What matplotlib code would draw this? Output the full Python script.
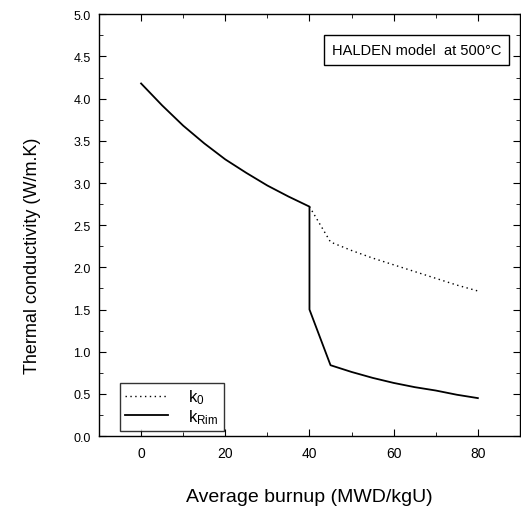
import matplotlib
matplotlib.use("Agg")
import matplotlib.pyplot as plt
from matplotlib.ticker import MultipleLocator, FormatStrFormatter

plt.rcParams['font.family'] = ['Liberation Sans', 'DejaVu Sans']
plt.rcParams['mathtext.fontset'] = 'custom'
plt.rcParams['mathtext.rm'] = 'Liberation Sans'
plt.rcParams['mathtext.it'] = 'Liberation Sans'

# burnup (MWD/kgU) and conductivity (W/m.K)
burnup_low = [0, 5, 10, 15, 20, 25, 30, 35, 40]
k_low = [4.18, 3.92, 3.68, 3.47, 3.28, 3.12, 2.97, 2.84, 2.72]

burnup_high = [40, 45, 50, 55, 60, 65, 70, 75, 80]
k0_high = [2.72, 2.30, 2.20, 2.11, 2.03, 1.95, 1.87, 1.79, 1.72]
krim_high = [1.50, 0.84, 0.76, 0.69, 0.63, 0.58, 0.54, 0.49, 0.45]


def main():
    fig = plt.figure(figsize=(5.21, 5.10), dpi=100)
    ax = fig.add_axes([0.190, 0.143, 0.808, 0.827])

    # k0 continues smoothly past 40, k_Rim drops at the rim threshold
    ax.plot(burnup_high, k0_high, color="black", lw=1.0, ls=(0, (1, 2.5)),
            label=r"$\mathregular{k_0}$")
    ax.plot(burnup_low + burnup_high, k_low + krim_high, color="black", lw=1.3,
            label=r"$\mathregular{k_{Rim}}$")

    ax.set_xlim(-10, 90)
    ax.set_ylim(0, 5.0)
    ax.xaxis.set_major_locator(MultipleLocator(20))
    ax.xaxis.set_minor_locator(MultipleLocator(10))
    ax.yaxis.set_major_locator(MultipleLocator(0.5))
    ax.yaxis.set_minor_locator(MultipleLocator(0.25))
    ax.yaxis.set_major_formatter(FormatStrFormatter("%.1f"))
    ax.tick_params(which="both", direction="in", top=True, right=True)
    ax.tick_params(axis="x", labelsize=10, pad=7)
    ax.tick_params(axis="y", labelsize=9, pad=6)
    ax.tick_params(which="major", length=5)
    ax.tick_params(which="minor", length=3)
    for s in ax.spines.values():
        s.set_linewidth(1.0)

    ax.set_xlabel("Average burnup (MWD/kgU)", fontsize=14, labelpad=20)
    ax.set_ylabel("Thermal conductivity (W/m.K)", fontsize=13)
    # the label sits a bit below the middle of the axis in the original
    ax.yaxis.set_label_coords(-0.138, 0.43)

    ax.text(0.955, 0.915, "HALDEN model  at 500\u00b0C", transform=ax.transAxes,
            ha="right", va="center", fontsize=10.5,
            bbox=dict(boxstyle="square,pad=0.55", fc="white", ec="black", lw=1.0))

    leg = ax.legend(loc="lower left", bbox_to_anchor=(0.05, 0.012),
                    fontsize=12, frameon=True, fancybox=False, edgecolor="black",
                    handlelength=2.6, handletextpad=1.2, borderpad=0.3,
                    labelspacing=0.05, borderaxespad=0)
    leg.get_frame().set_linewidth(1.0)

    fig.savefig("out.png", dpi=100)


if __name__ == '__main__':
    main()
